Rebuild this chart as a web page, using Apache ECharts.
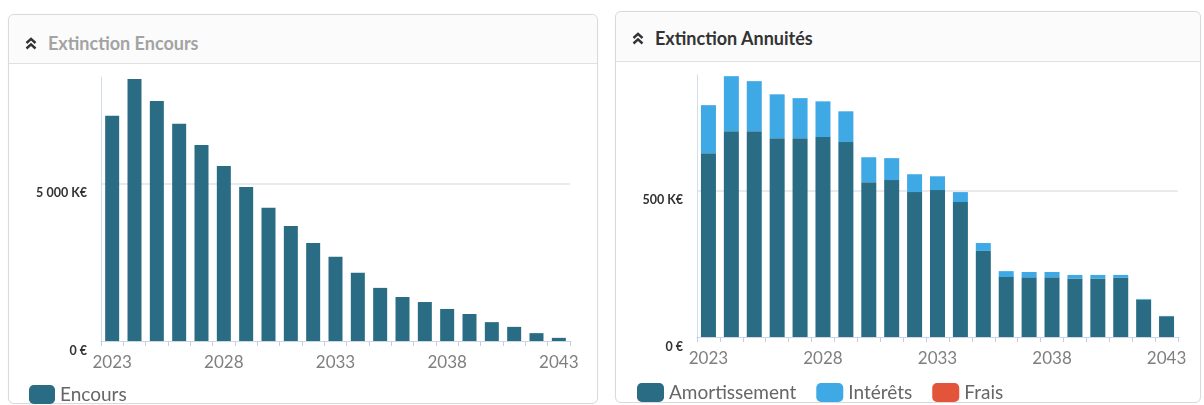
<!DOCTYPE html>
<html><head><meta charset="utf-8">
<script src="https://cdn.jsdelivr.net/npm/echarts@6/dist/echarts.min.js"></script>
<style>
html,body{margin:0;padding:0;background:#fff;width:1204px;height:405px;overflow:hidden;font-family:Lato,sans-serif}
.card{position:absolute;box-sizing:border-box;border:1px solid #dadada;border-radius:6px;background:#fff;box-shadow:0 0 2px rgba(0,0,0,0.06)}
.hdr{position:absolute;left:0;right:0;top:0;box-sizing:border-box;border-bottom:1px solid #e0e0e0;background:#fbfbfb;border-radius:6px 6px 0 0}
.hdr span{position:absolute;left:39px;font-weight:700;font-size:18px;line-height:20px;white-space:nowrap}
.hdr svg{position:absolute;left:16px}
#chart{position:absolute;left:0;top:0;width:1204px;height:405px}
</style></head>
<body>
<div class="card" style="left:8px;top:14px;width:590px;height:390px">
  <div class="hdr" style="height:49px">
    <svg width="12" height="13" viewBox="0 0 12 13" style="top:22px"><path d="M1.5 6 L6 1.8 L10.5 6 M1.5 11.5 L6 7.3 L10.5 11.5" stroke="#333" stroke-width="2.4" fill="none"/></svg>
    <span style="top:18px;color:#a3a3a3">Extinction Encours</span>
  </div>
</div>
<div class="card" style="left:615px;top:11px;width:586px;height:392px">
  <div class="hdr" style="height:50px">
    <svg width="12" height="13" viewBox="0 0 12 13" style="top:20px"><path d="M1.5 6 L6 1.8 L10.5 6 M1.5 11.5 L6 7.3 L10.5 11.5" stroke="#333" stroke-width="2.4" fill="none"/></svg>
    <span style="top:16px;color:#333">Extinction Annuités</span>
  </div>
</div>
<div id="chart"></div>
<script>
const years = ['2023','2024','2025','2026','2027','2028','2029','2030','2031','2032','2033','2034','2035','2036','2037','2038','2039','2040','2041','2042','2043'];
// K€
const encours = [7170,8340,7640,6910,6240,5570,4900,4240,3660,3120,2680,2170,1690,1400,1240,1020,860,600,450,250,100];
const amortissement = [628,703,703,679,679,683,666,529,536,495,502,461,294,205,204,204,200,200,202,128,71];
const interets = [164,188,171,150,137,122,105,85,75,61,47,34,27,20,18,18,12,12,10,2,1];
const frais = [0,0,0,0,0,0,0,0,0,0,0,0,0,0,0,0,0,0,0,0,0];

const C_DARK = '#2a6c84', C_LIGHT = '#3fa9e6', C_RED = '#e2553a';
function fmt(v){ return v === 0 ? '0 €' : String(v).replace(/\B(?=(\d{3})+(?!\d))/g, ' ') + ' K€'; }
const font = 'Lato';
function xAxis(gi){
  return {type:'category', gridIndex:gi, data:years, boundaryGap:true,
    axisLine:{show:true, lineStyle:{color:'#ccd6eb', width:1}},
    axisTick:{show:true, interval:0, length:5, lineStyle:{color:'#c8cbe8'}},
    axisLabel:{interval:4, margin:13, color:'#7f7f7f', fontSize:17, fontFamily:font}};
}
function yAxis(gi, max, interval){
  return {type:'value', gridIndex:gi, min:0, max:max, interval:interval,
    axisLine:{show:true, lineStyle:{color:'#d6dcef', width:1}},
    axisTick:{show:false},
    splitLine:{show:true, showMinLine:false, showMaxLine:false, lineStyle:{color:'#e3e3e3', width:1.5}},
    axisLabel:{showMaxLabel:false, margin:14, color:'#333', fontSize:12.5, fontWeight:'bold', fontFamily:font,
      verticalAlign:'top', padding:[3,0,0,0], formatter:fmt}};
}
const chart = echarts.init(document.getElementById('chart'), null, {renderer:'canvas'});
chart.setOption({
  animation:false,
  backgroundColor:'transparent',
  grid:[
    {left:101, top:77, width:469, height:264},
    {left:697, top:75, width:481, height:262}
  ],
  xAxis:[xAxis(0), xAxis(1)],
  yAxis:[yAxis(0, 8400, 5000), yAxis(1, 895, 500)],
  legend:[
    {data:['Encours'], left:24, top:380, icon:'roundRect', itemWidth:26, itemHeight:19, itemGap:20,
      textStyle:{color:'#666', fontSize:19, fontFamily:font}},
    {data:['Amortissement','Intérêts','Frais'], left:632, top:378, icon:'roundRect', itemWidth:27, itemHeight:19, itemGap:20,
      textStyle:{color:'#666', fontSize:19, fontFamily:font}}
  ],
  series:[
    {name:'Encours', type:'bar', xAxisIndex:0, yAxisIndex:0, data:encours, barWidth:14, itemStyle:{color:C_DARK}},
    {name:'Amortissement', type:'bar', stack:'a', xAxisIndex:1, yAxisIndex:1, data:amortissement, barWidth:15, itemStyle:{color:C_DARK}},
    {name:'Intérêts', type:'bar', stack:'a', xAxisIndex:1, yAxisIndex:1, data:interets, barWidth:15, itemStyle:{color:C_LIGHT}},
    {name:'Frais', type:'bar', stack:'a', xAxisIndex:1, yAxisIndex:1, data:frais, barWidth:15, itemStyle:{color:C_RED}}
  ]
});
</script>
</body></html>
